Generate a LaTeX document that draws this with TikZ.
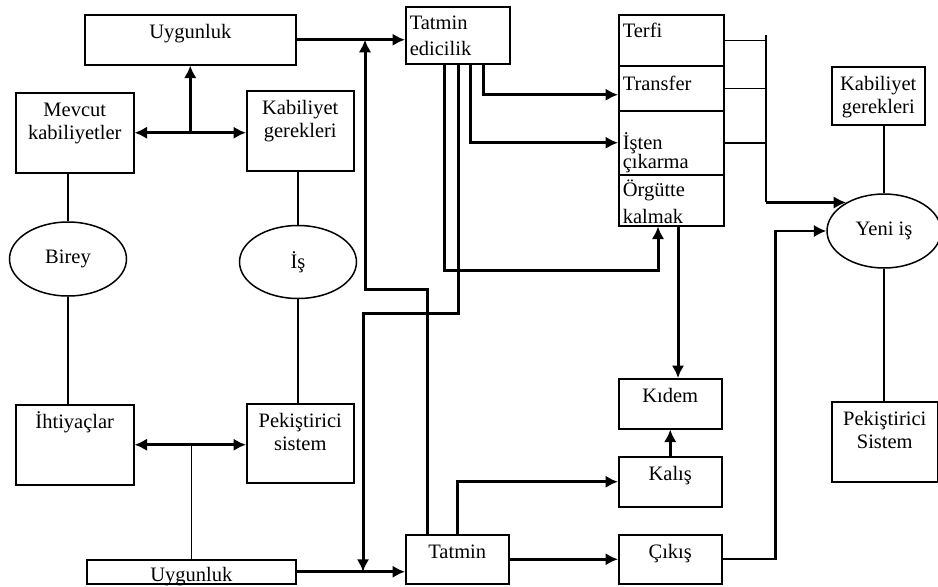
\documentclass[tikz,border=0pt]{standalone}
\usepackage{fontspec}
\setmainfont{Liberation Serif}
\usetikzlibrary{arrows.meta,shapes.geometric}
\newdimen\px \px=0.6pt
\newcommand{\ctext}[4][24]{\parbox[c][#3\px][t]{#2\px}{\centering\rule{0pt}{#1\px}#4}}
\newcommand{\ltext}[4]{\parbox[c][#2\px][t]{#1\px}{\raggedright\leftskip=4\px\rule{0pt}{#3\px}#4}}

\begin{document}
\begin{tikzpicture}[x=0.6pt, y=-0.6pt, >={Latex[length=7.5pt,width=7.5pt]},
    font=\fontsize{12.3}{13.5}\selectfont,
    box/.style={draw, line width=0.9pt, inner sep=0pt, anchor=north west},
    oval/.style={draw, ellipse, line width=0.9pt, inner sep=0pt},
    flow/.style={line width=1.8pt},
    link/.style={line width=0.9pt},
    exit/.style={line width=1.3pt}]
    \useasboundingbox (0,0) rectangle (938,586);
    \node[box] (uygTop) at (84,14) {\ctext{211}{50}{Uygunluk}};
    \node[box] (mevcut) at (15,92) {\ctext{118}{80}{Mevcut\\kabiliyetler}};
    \node[box] (kabGer) at (246,90) {\ctext{107}{80}{Kabiliyet\\gerekleri}};
    \node[oval, minimum width=117*\px, minimum height=74*\px] (birey) at (68,259) {Birey};
    \node[oval, minimum width=117*\px, minimum height=73*\px] (is) at (298,262) {İş};
    \node[box] (ihtiyac) at (15,404) {\ctext{118}{80}{İhtiyaçlar}};
    \node[box] (pekis) at (246,403) {\ctext{107}{79}{Pekiştirici\\sistem}};
    \node[box] (uygBot) at (86,559) {\ctext[22]{209}{24}{Uygunluk}};
    \node[box] (tatEd) at (405,6) {\ltext{104}{57}{23}{Tatmin\\[2pt]edicilik}};
    \node[box] (terfi) at (618,14) {\ltext{105}{51}{23}{Terfi}};
    \node[box] (transfer) at (618,65) {\ltext{105}{45}{25}{Transfer}};
    \node[box] (isten) at (618,110) {\ltext{105}{64}{39}{İşten\\[-2pt]çıkarma}};
    \node[box] (orgut) at (618,174) {\ltext{105}{51}{22}{Örgütte\\[2.5pt]kalmak}};
    \node[box] (kabGer2) at (831,66) {\ctext{93}{58}{Kabiliyet\\gerekleri}};
    \node[oval, minimum width=114*\px, minimum height=74*\px] (yeni) at (884,231) {Yeni iş};
    \node[box] (pekis2) at (831,401) {\ctext{106}{80}{Pekiştirici\\Sistem}};
    \node[box] (kidem) at (618,378) {\ctext{103}{50}{Kıdem}};
    \node[box] (kalis) at (618,456) {\ctext{103}{50}{Kalış}};
    \node[box] (cikis) at (618,534) {\ctext{103}{49}{Çıkış}};
    \node[box] (tatmin) at (405,534) {\ctext{103}{49}{Tatmin}};
    \coordinate (joinTop) at (365,0 |- uygTop.east);
    \coordinate (joinBot) at (363,0 |- uygBot.east);
    \coordinate (busTop) at (766,35);
    \coordinate (busBot) at (busTop |- yeni.143);
    \draw[link] (birey.north |- mevcut.south) -- (birey.north);
    \draw[link] (birey.south) -- (birey.south |- ihtiyac.north);
    \draw[link] (is.north |- kabGer.south) -- (is.north);
    \draw[link] (is.south) -- (is.south |- pekis.north);
    \draw[link] (yeni.north |- kabGer2.south) -- (yeni.north);
    \draw[link] (yeni.south) -- (yeni.south |- pekis2.north);
    \draw[link] (uygBot.north |- ihtiyac.east) -- (uygBot.north);
    \draw[flow, <->] (mevcut.east) -- (mevcut.east -| kabGer.west);
    \draw[flow, ->] (uygTop.south |- mevcut.east) -- (uygTop.south);
    \draw[flow, <->] (ihtiyac.east) -- (ihtiyac.east -| pekis.west);
    \draw[flow, ->] (uygTop.east) -- (uygTop.east -| tatEd.west);
    \draw[flow, ->] (uygBot.east) -- (uygBot.east -| tatmin.west);
    \draw[flow, ->] ([xshift=22*\px]tatmin.north west) |- (365,289) -- (joinTop);
    \draw[flow, ->] ([xshift=53*\px]tatEd.south west) |- (363,313) -- (joinBot);
    \draw[flow, ->] ([xshift=78*\px]tatEd.south west) |- ([yshift=-6.5*\px]transfer.west);
    \draw[flow, ->] ([xshift=65*\px]tatEd.south west) |- (isten.west);
    \draw[flow, ->] ([xshift=39*\px]tatEd.south west) -- ++(0,206) -| ([xshift=40*\px]orgut.south west);
    \draw[flow, ->] ([xshift=60*\px]orgut.south west) -- ([xshift=60*\px]orgut.south west |- kidem.north);
    \draw[flow, ->] (kalis.north) -- (kidem.south);
    \draw[flow, ->] (tatmin.north) |- (kalis.west);
    \draw[flow, ->] (tatmin.east) -- (cikis.west);
    \draw[link] (terfi.east) -- (terfi.east -| busTop);
    \draw[link] (transfer.east) -- (transfer.east -| busTop);
    \draw[link] (isten.east) -- (isten.east -| busTop);
    \draw[link] (busTop) -- (busBot);
    \draw[flow, ->] (busBot) -- (yeni.143);
    \draw[exit, ->] (cikis.east) -- ++(53,0) |- (yeni.west);
\end{tikzpicture}
\end{document}
